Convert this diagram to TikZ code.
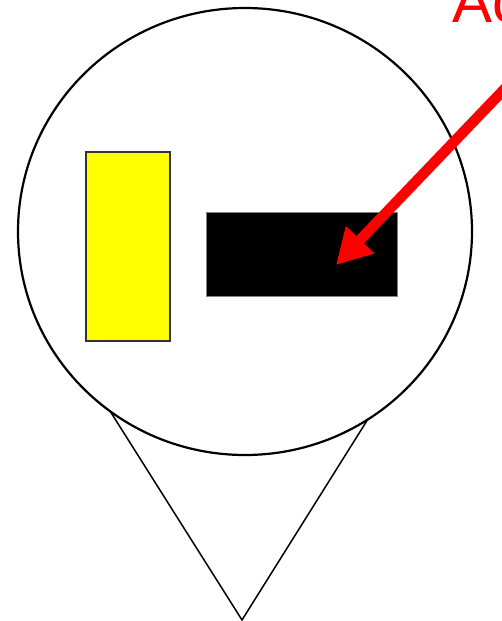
\documentclass[tikz,border=0pt]{standalone}
\usepackage{fontspec}
\setmainfont{Liberation Sans}
\usetikzlibrary{arrows.meta}
\definecolor{doorfill}{RGB}{255,255,0}
\definecolor{signred}{RGB}{255,0,0}

\begin{document}
\begin{tikzpicture}[x=1pt,y=-1pt,line width=1.5pt,
  box/.style={draw=black!80,line width=1.2pt,inner sep=0pt}]
\useasboundingbox (0,0) rectangle (501,621);
\coordinate (L) at (110,411); \coordinate (R) at (368,419); \coordinate (P) at (242,620);
\coordinate (tip) at (336,265); \coordinate (from) at (561,30);
\draw (L)--(P)--(R);
\draw[line width=2.2pt] (245,231.5) ellipse (227 and 223.5);
\node[box,fill=doorfill,minimum width=84pt,minimum height=189pt] (door) at (128,246.5) {};
\node[box,draw=black!50,line width=.8pt,fill=black,minimum width=191pt,minimum height=84pt] (hole) at (301.5,254) {};
\draw[signred,line width=10.5pt,-{Triangle[length=35pt,width=37pt]}] (from)--(tip);
\node[signred,anchor=base west,inner sep=0pt,font=\fontsize{60}{72}\selectfont] (lbl) at (452,22) {Action};
\end{tikzpicture}
\end{document}
